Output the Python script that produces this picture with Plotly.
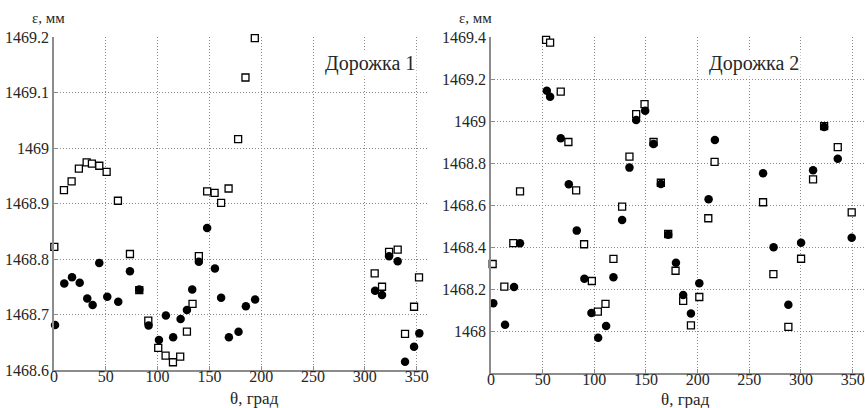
import plotly.graph_objects as go

W, H = 865, 408

# ---- Track 1 (Дорожка 1) ----
t1_sq_x = [0.3, 9.6, 17, 24, 31.5, 36.6, 43.7, 50.8, 61.7, 73.3, 82.3, 91, 100.6, 107.7, 114.8, 121.8,
           128.3, 133.7, 139.8, 147.8, 155, 161.3, 168.5, 177.7, 184.8, 193.8,
           309.5, 316.6, 323.4, 331.7, 338.8, 347.5, 352.3]
t1_sq_y = [1468.822, 1468.924, 1468.94, 1468.963, 1468.974, 1468.972, 1468.968, 1468.957, 1468.905,
           1468.809, 1468.744, 1468.689, 1468.64, 1468.626, 1468.614, 1468.624, 1468.669, 1468.719,
           1468.805, 1468.922, 1468.919, 1468.901, 1468.927, 1469.016, 1469.127, 1469.198,
           1468.774, 1468.75, 1468.813, 1468.817, 1468.665, 1468.714, 1468.767]
t1_ci_x = [1, 9.9, 17.4, 24.8, 32.1, 37.3, 43.7, 51.4, 62, 73.3, 82.3, 91.3, 101.3, 108, 115, 122.2,
           128.3, 133.4, 139.8, 147.8, 155.3, 161.3, 168.8, 178.1, 185.2, 194.1,
           309.9, 316.6, 323.4, 331.7, 338.8, 347.5, 352.6]
t1_ci_y = [1468.681, 1468.756, 1468.767, 1468.757, 1468.729, 1468.717, 1468.793, 1468.732, 1468.723,
           1468.778, 1468.745, 1468.68, 1468.654, 1468.698, 1468.659, 1468.692, 1468.708, 1468.745,
           1468.795, 1468.856, 1468.783, 1468.73, 1468.659, 1468.669, 1468.715, 1468.727,
           1468.743, 1468.735, 1468.805, 1468.796, 1468.615, 1468.642, 1468.666]

# ---- Track 2 (Дорожка 2) ----
t2_sq_x = [1.6, 12.9, 21.6, 28.1, 53.3, 57.2, 67.5, 74.9, 82.4, 90.1, 97.6, 103.4, 110.8, 118.5,
           126.9, 134, 140.5, 148.6, 157.3, 164.4, 171.5, 178.6, 186, 193.5, 201.6, 210.3, 216.4,
           263.3, 273.3, 287.8, 300.1, 311.7, 322.4, 335.6, 349.1]
t2_sq_y = [1468.319, 1468.211, 1468.418, 1468.665, 1469.386, 1469.373, 1469.14, 1468.9, 1468.67,
           1468.413, 1468.238, 1468.092, 1468.129, 1468.343, 1468.592, 1468.83, 1469.033, 1469.08,
           1468.9, 1468.706, 1468.462, 1468.287, 1468.143, 1468.027, 1468.162, 1468.537, 1468.805,
           1468.613, 1468.271, 1468.02, 1468.344, 1468.722, 1468.976, 1468.876, 1468.565]
t2_ci_x = [2.2, 13.6, 22.3, 28.1, 54, 57.2, 67.5, 75.3, 83, 90.4, 97.2, 103.7, 111.4, 118.5, 126.9,
           134, 140.5, 149.2, 157.3, 164.4, 171.5, 179, 186, 193.5, 201.6, 210.6, 216.7,
           263.3, 273.5, 287.8, 300.1, 311.7, 322.4, 335.6, 349.1]
t2_ci_y = [1468.132, 1468.03, 1468.21, 1468.418, 1469.144, 1469.116, 1468.918, 1468.699, 1468.478,
           1468.249, 1468.086, 1467.968, 1468.024, 1468.256, 1468.529, 1468.778, 1469.005, 1469.049,
           1468.89, 1468.70, 1468.458, 1468.325, 1468.171, 1468.083, 1468.227, 1468.627, 1468.91,
           1468.751, 1468.399, 1468.125, 1468.42, 1468.765, 1468.971, 1468.82, 1468.444]

x_ticks = [0, 50, 100, 150, 200, 250, 300, 350]
y1_ticks = [1468.6, 1468.7, 1468.8, 1468.9, 1469.0, 1469.1, 1469.2]
y1_text = ["1468.6", "1468.7", "1468.8", "1468.9", "1469", "1469.1", "1469.2"]
y2_ticks = [1468.0, 1468.2, 1468.4, 1468.6, 1468.8, 1469.0, 1469.2, 1469.4]
y2_text = ["1468", "1468.2", "1468.4", "1468.6", "1468.8", "1469", "1469.2", "1469.4"]

FONT = "Liberation Serif, Times New Roman, DejaVu Serif, serif"
TXT = "#262626"

fig = go.Figure()

def add_track(sx, sy, cx, cy, xa, ya):
    fig.add_trace(go.Scatter(x=sx, y=sy, mode="markers", xaxis=xa, yaxis=ya, showlegend=False,
                             marker=dict(symbol="square", size=7, color="white",
                                         line=dict(color="black", width=1.3)), cliponaxis=False))
    fig.add_trace(go.Scatter(x=cx, y=cy, mode="markers", xaxis=xa, yaxis=ya, showlegend=False,
                             marker=dict(symbol="circle", size=8.5, color="black",
                                         line=dict(width=0)), cliponaxis=False))

add_track(t1_sq_x, t1_sq_y, t1_ci_x, t1_ci_y, "x", "y")
add_track(t2_sq_x, t2_sq_y, t2_ci_x, t2_ci_y, "x2", "y2")

axis_common = dict(showgrid=True, gridcolor="#8a8a8a", griddash="1px,2px", gridwidth=1,
                   showline=True, linecolor="#8c8c8c", linewidth=1.5,
                   ticks="inside", ticklen=4, tickcolor="#8c8c8c", automargin=False,
                   tickfont=dict(family=FONT, size=16, color=TXT), zeroline=False)

fig.update_layout(
    width=W, height=H, margin=dict(l=0, r=0, t=0, b=0, pad=0, autoexpand=False),
    paper_bgcolor="white", plot_bgcolor="white",
    xaxis=dict(domain=[54 / W, 427 / W], range=[0, 360], tickvals=x_ticks, anchor="y",
               ticklabelstandoff=-9, **axis_common),
    yaxis=dict(domain=[1 - 370 / H, 1 - 37 / H], range=[1468.6, 1469.2], tickvals=y1_ticks,
               ticktext=y1_text, anchor="x", **axis_common),
    xaxis2=dict(domain=[491 / W, 864 / W], range=[0, 361], tickvals=x_ticks, anchor="y2",
                ticklabelstandoff=-9, **axis_common),
    yaxis2=dict(domain=[1 - 373 / H, 1 - 37 / H], range=[1467.8, 1469.4], tickvals=y2_ticks,
                ticktext=y2_text, anchor="x2", **axis_common),
    font=dict(family=FONT, color=TXT),
)

ann_font = dict(family=FONT, size=15, color=TXT)
annotations = [
    dict(text="ε, мм", x=48 / W, y=1 - 18 / H, xref="paper", yref="paper", showarrow=False,
         font=ann_font, xanchor="center", yanchor="middle"),
    dict(text="ε, мм", x=475 / W, y=1 - 18 / H, xref="paper", yref="paper", showarrow=False,
         font=ann_font, xanchor="center", yanchor="middle"),
    dict(text="θ, град", x=254 / W, y=1 - 398 / H, xref="paper", yref="paper", showarrow=False,
         font=dict(family=FONT, size=17, color=TXT), xanchor="center", yanchor="middle"),
    dict(text="θ, град", x=685 / W, y=1 - 399 / H, xref="paper", yref="paper", showarrow=False,
         font=dict(family=FONT, size=17, color=TXT), xanchor="center", yanchor="middle"),
    dict(text="Дорожка 1", x=370 / W, y=1 - 63 / H, xref="paper", yref="paper", showarrow=False,
         font=dict(family=FONT, size=20, color=TXT), xanchor="center", yanchor="middle",
         bgcolor="white"),
    dict(text="Дорожка 2", x=754 / W, y=1 - 63 / H, xref="paper", yref="paper", showarrow=False,
         font=dict(family=FONT, size=20, color=TXT), xanchor="center", yanchor="middle",
         bgcolor="white"),
]
fig.update_layout(annotations=annotations)

fig.write_html("out.html", config={"displayModeBar": False},
               post_script="document.body.style.margin='0';document.body.style.padding='0';")
